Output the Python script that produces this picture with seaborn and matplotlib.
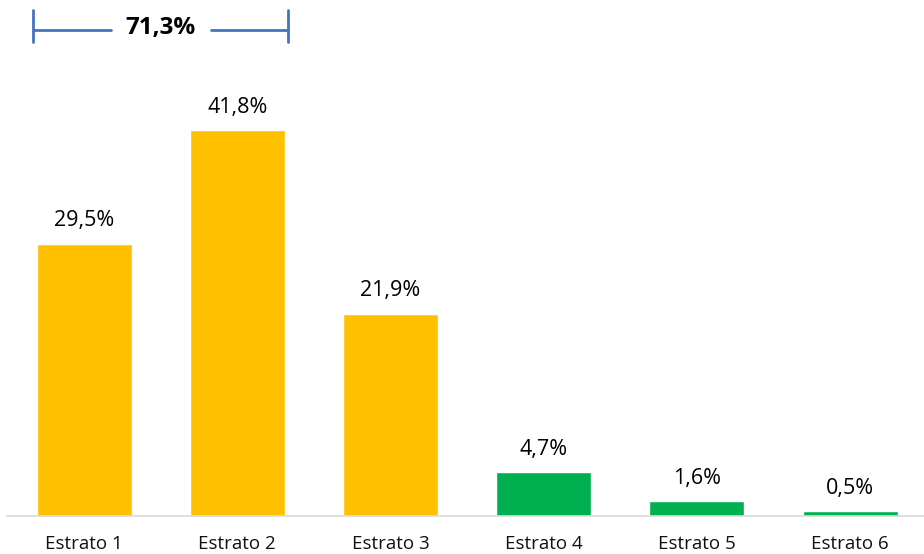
import pandas as pd
import matplotlib.pyplot as plt
import seaborn as sns

# data
estratos = ["Estrato 1", "Estrato 2", "Estrato 3", "Estrato 4", "Estrato 5", "Estrato 6"]
porcentajes = [29.5, 41.8, 21.9, 4.7, 1.6, 0.5]
grupo = ["bajo", "bajo", "bajo", "alto", "alto", "alto"]
total_bajo = "71,3%"

df = pd.DataFrame({"estrato": estratos, "pct": porcentajes, "grupo": grupo})

sns.set_style("white")
plt.rcParams['font.family'] = ['Open Sans', 'DejaVu Sans']

fig = plt.figure(figsize=(9.24, 5.54), dpi=100)
ax = fig.add_axes([0.008, 0.069, 0.995, 0.931])

sns.barplot(data=df, x="estrato", y="pct", hue="grupo",
            palette={"bajo": "#FFC000", "alto": "#00B050"},
            width=0.62, dodge=False, legend=False, ax=ax, saturation=1)

for i, v in enumerate(porcentajes):
    ax.annotate(f"{v:.1f}%".replace(".", ","), (i, v), xytext=(0, 9),
                textcoords="offset points", ha="center", va="bottom",
                fontsize=15.5, color="#000000")

ax.set_xlim(-0.5, 5.5)
ax.set_ylim(0, 55.9)

# bracket over estratos 1-3
blue = "#4472C4"
ax.plot([-0.335, 0.175], [52.65, 52.65], color=blue, lw=2, clip_on=False)
ax.plot([0.83, 1.33], [52.65, 52.65], color=blue, lw=2, clip_on=False)
ax.plot([-0.335, -0.335], [51.3, 54.8], color=blue, lw=2, clip_on=False)
ax.plot([1.33, 1.33], [51.3, 54.8], color=blue, lw=2, clip_on=False)
ax.text(0.5, 52.9, total_bajo, ha="center", va="center", fontsize=17.5,
        fontweight="bold", color="#000000")

ax.set_xlabel("")
ax.set_ylabel("")
ax.set_yticks([])
ax.tick_params(axis="x", length=0, labelsize=13.5, pad=13.5, labelcolor="#111111")
for s in ["top", "right", "left"]:
    ax.spines[s].set_visible(False)
ax.spines["bottom"].set_color("#D9D9D9")
ax.spines["bottom"].set_linewidth(1.2)

fig.savefig("out.png", dpi=100)
